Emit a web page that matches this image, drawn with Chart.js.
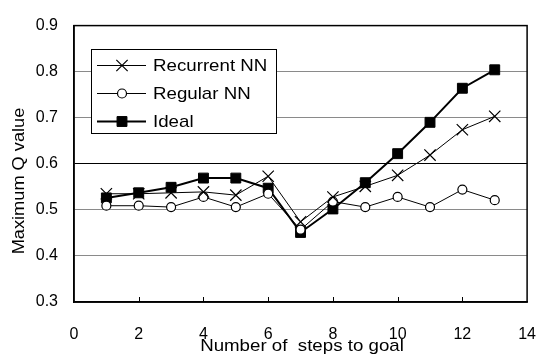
<!DOCTYPE html>
<html>
<head>
<meta charset="utf-8">
<script src="https://cdn.jsdelivr.net/npm/chart.js@4/dist/chart.umd.min.js"></script>
<style>
    html, body { margin: 0; padding: 0; background: #fff; }
    #wrap { width: 559px; height: 358px; }
</style>
</head>
<body>
<div id="wrap"><canvas id="chart" width="559" height="358"></canvas></div>
<script>
// values
const steps = [1, 2, 3, 4, 5, 6, 7, 8, 9, 10, 11, 12, 13];
const recurrentNN = [0.535, 0.535, 0.537, 0.539, 0.532, 0.573, 0.474, 0.528, 0.551, 0.575, 0.619, 0.674, 0.703];
const regularNN = [0.509, 0.509, 0.506, 0.528, 0.506, 0.535, 0.457, 0.518, 0.506, 0.528, 0.506, 0.544, 0.521];
const ideal = [0.526, 0.537, 0.549, 0.569, 0.569, 0.547, 0.451, 0.502, 0.559, 0.622, 0.690, 0.764, 0.804];
const seriesNames = ['Recurrent NN', 'Regular NN', 'Ideal'];
const xTitle = 'Number of  steps to goal';
const yTitle = 'Maximum Q value';

const FONT = '"Liberation Sans", Arial, sans-serif';

const toPoints = (vals) => vals.map((v, i) => ({ x: steps[i], y: v }));

// text in the original is a little wider than the font, so stretch it sideways
function wideText(ctx, text, x, y, stretch) {
    ctx.save();
    ctx.translate(x, y);
    ctx.scale(stretch, 1);
    ctx.fillText(text, 0, 0);
    ctx.restore();
}

// draws the boxed legend, the axis titles, the frame and the inner x tick marks
const decorations = {
    id: 'decorations',
    afterDraw(chart) {
        const ctx = chart.ctx;
        const area = chart.chartArea;
        const xs = chart.scales.x;

        ctx.save();
        // inner tick marks on the bottom axis
        ctx.strokeStyle = '#000';
        ctx.lineWidth = 1;
        for (let v = 2; v < 14; v += 2) {
            const px = Math.round(xs.getPixelForValue(v)) + 0.5;
            ctx.beginPath();
            ctx.moveTo(px, area.bottom);
            ctx.lineTo(px, area.bottom - 5);
            ctx.stroke();
        }

        // plot frame
        ctx.lineWidth = 1.5;
        ctx.strokeRect(area.left, area.top, area.right - area.left, area.bottom - area.top);

        // legend box
        const box = { x: 91, y: 49, w: 185, h: 84 };
        ctx.fillStyle = '#fff';
        ctx.fillRect(box.x, box.y, box.w, box.h);
        ctx.lineWidth = 1;
        ctx.strokeStyle = '#000';
        ctx.strokeRect(box.x + 0.5, box.y + 0.5, box.w, box.h);

        const rows = [65, 93, 121];
        chart.data.datasets.forEach((ds, i) => {
            const y = rows[i] + 0.5;
            ctx.strokeStyle = '#000';
            ctx.lineWidth = ds.borderWidth;
            ctx.beginPath();
            ctx.moveTo(97, y);
            ctx.lineTo(146, y);
            ctx.stroke();
            ctx.lineWidth = ds.pointBorderWidth;
            ctx.fillStyle = ds.pointBackgroundColor;
            ctx.strokeStyle = ds.pointBorderColor;
            Chart.helpers.drawPoint(ctx, {
                pointStyle: ds.pointStyle,
                radius: ds.pointRadius,
                rotation: 0,
                borderWidth: ds.pointBorderWidth
            }, 122, y);
            ctx.fillStyle = '#000';
            ctx.font = '17px ' + FONT;
            ctx.textAlign = 'left';
            ctx.textBaseline = 'middle';
            wideText(ctx, ds.label, 153, rows[i] + 1, 1.1);
        });

        // axis titles
        ctx.fillStyle = '#000';
        ctx.font = '17px ' + FONT;
        ctx.textAlign = 'center';
        ctx.textBaseline = 'middle';
        wideText(ctx, xTitle, 302, 346, 1.1);
        ctx.translate(19, 181);
        ctx.rotate(-Math.PI / 2);
        wideText(ctx, yTitle, 0, 0, 1.07);
        ctx.restore();
    }
};

const datasets = [
    {
        label: seriesNames[0],
        data: toPoints(recurrentNN),
        borderColor: '#000',
        borderWidth: 1,
        pointStyle: 'crossRot',
        pointRadius: 8,
        pointBorderWidth: 1.2,
        pointBorderColor: '#000',
        pointBackgroundColor: '#000'
    },
    {
        label: seriesNames[1],
        data: toPoints(regularNN),
        borderColor: '#000',
        borderWidth: 1,
        pointStyle: 'circle',
        pointRadius: 4.5,
        pointBorderWidth: 1.2,
        pointBorderColor: '#000',
        pointBackgroundColor: '#fff'
    },
    {
        label: seriesNames[2],
        data: toPoints(ideal),
        borderColor: '#000',
        borderWidth: 2,
        pointStyle: 'rect',
        pointRadius: 7,
        pointBorderWidth: 1,
        pointBorderColor: '#000',
        pointBackgroundColor: '#000'
    }
];

new Chart(document.getElementById('chart'), {
    type: 'line',
    data: { datasets },
    options: {
        responsive: false,
        animation: false,
        events: [],
        layout: { padding: { top: 14, right: 12, left: 0, bottom: 0 } },
        plugins: {
            legend: { display: false },
            tooltip: { enabled: false }
        },
        scales: {
            x: {
                type: 'linear',
                min: 0,
                max: 14,
                ticks: {
                    stepSize: 2,
                    color: '#000',
                    padding: 23,
                    font: { family: FONT, size: 16 }
                },
                grid: { display: false, drawTicks: false },
                border: { display: true, color: '#000', width: 1.5 },
                afterFit: (scale) => { scale.height = 56; }
            },
            y: {
                min: 0.3,
                max: 0.9,
                ticks: {
                    stepSize: 0.1,
                    color: '#000',
                    padding: 16,
                    font: { family: FONT, size: 16 },
                    callback: (v) => v.toFixed(1)
                },
                grid: {
                    drawTicks: false,
                    lineWidth: 1,
                    color: (c) => Math.abs(c.tick.value - 0.6) < 1e-6 ? '#000' : '#8a8a8a'
                },
                border: { display: true, color: '#000', width: 1.5 },
                afterFit: (scale) => { scale.width = 74; }
            }
        }
    },
    plugins: [decorations]
});
</script>
</body>
</html>
